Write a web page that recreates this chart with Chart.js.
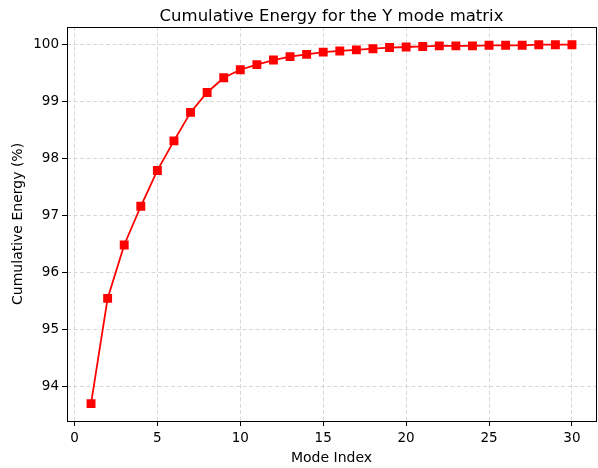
<!DOCTYPE html>
<html>
<head>
<meta charset="utf-8">
<script src="https://cdn.jsdelivr.net/npm/chart.js@4.4.1/dist/chart.umd.min.js"></script>
<style>
  html, body { margin: 0; padding: 0; background: #fff; }
  #wrap { width: 598px; height: 468px; }
</style>
</head>
<body>
<div id="wrap"><canvas id="energyChart" width="598" height="468"></canvas></div>
<script>
// values
const modeIndex = [1, 2, 3, 4, 5, 6, 7, 8, 9, 10, 11, 12, 13, 14, 15,
  16, 17, 18, 19, 20, 21, 22, 23, 24, 25, 26, 27, 28, 29, 30];
const cumulativeEnergy = [93.69, 95.54, 96.48, 97.16, 97.79, 98.31, 98.81, 99.16, 99.42, 99.56,
  99.65, 99.73, 99.79, 99.83, 99.87, 99.89, 99.91, 99.93, 99.95, 99.96,
  99.97, 99.98, 99.98, 99.98, 99.99, 99.99, 99.99, 100.0, 100.0, 100.0];
const xTicks = [0, 5, 10, 15, 20, 25, 30];
const yTicks = [94, 95, 96, 97, 98, 99, 100];

const font = "'DejaVu Sans', sans-serif";

// black box around the plot area, like matplotlib spines
const framePlugin = {
  id: 'frame',
  afterDatasetsDraw(chart) {
    const a = chart.chartArea;
    const ctx = chart.ctx;
    ctx.save();
    ctx.strokeStyle = '#000';
    ctx.lineWidth = 1;
    ctx.strokeRect(Math.round(a.left) + 0.5, Math.round(a.top) + 0.5,
      Math.round(a.right - a.left), Math.round(a.bottom - a.top));
    ctx.restore();
  }
};

const gridOpts = {
  color: 'rgba(200, 200, 200, 0.7)',
  lineWidth: 1,
  tickColor: '#000',
  tickLength: 5,
  tickWidth: 1
};

new Chart(document.getElementById('energyChart'), {
  type: 'line',
  data: {
    datasets: [{
      data: modeIndex.map((m, i) => ({ x: m, y: cumulativeEnergy[i] })),
      borderColor: '#ff0000',
      backgroundColor: '#ff0000',
      borderWidth: 1.8,
      pointStyle: 'rect',
      pointRadius: 6.3,
      pointHoverRadius: 6.3,
      pointBorderWidth: 0,
      tension: 0
    }]
  },
  options: {
    responsive: false,
    animation: false,
    layout: { autoPadding: false, padding: { left: 0, right: 2, top: 0, bottom: 0 } },
    plugins: {
      legend: { display: false },
      tooltip: { enabled: false },
      title: {
        display: true,
        fullSize: false,
        text: 'Cumulative Energy for the Y mode matrix',
        color: '#000',
        font: { family: font, size: 16.5, weight: 'normal' },
        padding: { top: 7, bottom: 0 }
      }
    },
    scales: {
      x: {
        type: 'linear',
        min: -0.45,
        max: 31.45,
        afterBuildTicks(scale) { scale.ticks = xTicks.map(v => ({ value: v })); },
        afterFit(scale) {
          scale.height = 47;
          scale.paddingLeft = 0;
          scale.paddingRight = 0;
        },
        grid: gridOpts,
        border: { display: false, dash: [4, 2.5] },
        ticks: {
          color: '#000',
          padding: 4,
          maxRotation: 0,
          font: { family: font, size: 13.5 }
        },
        title: {
          display: true,
          text: 'Mode Index',
          color: '#000',
          font: { family: font, size: 14 },
          padding: { top: 0, bottom: 1 }
        }
      },
      y: {
        type: 'linear',
        min: 93.385,
        max: 100.315,
        afterBuildTicks(scale) { scale.ticks = yTicks.map(v => ({ value: v })); },
        afterFit(scale) {
          scale.width = 67;
          scale.paddingTop = 0;
          scale.paddingBottom = 0;
        },
        grid: gridOpts,
        border: { display: false, dash: [4, 2.5] },
        ticks: {
          color: '#000',
          padding: 3,
          font: { family: font, size: 13.5 }
        },
        title: {
          display: true,
          text: 'Cumulative Energy (%)',
          color: '#000',
          font: { family: font, size: 14 },
          padding: { top: 10, bottom: 0 }
        }
      }
    }
  },
  plugins: [framePlugin]
});
</script>
</body>
</html>
